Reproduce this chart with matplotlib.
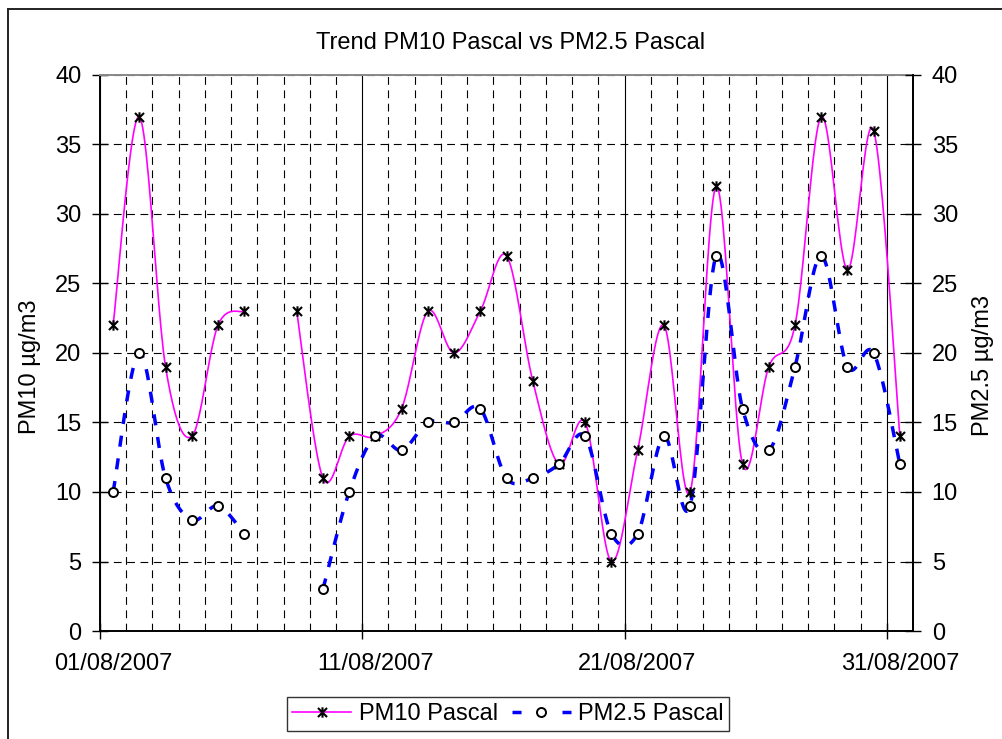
import datetime as dt
import numpy as np
import matplotlib
matplotlib.use("Agg")
import matplotlib.pyplot as plt
import matplotlib.dates as mdates
import matplotlib.transforms as mtransforms
from matplotlib.lines import Line2D
from matplotlib.path import Path
from matplotlib.ticker import MultipleLocator, FixedLocator

plt.rcParams['font.family'] = ['Liberation Sans', 'DejaVu Sans']

# ---------------- data ----------------
days = list(range(1, 32))  # August 2007
pm10 = [22, 37, 19, 14, 22, 23, None, 23, 11, 14, 14, 16, 23, 20, 23, 27,
        18, 12, 15, 5, 13, 22, 10, 32, 12, 19, 22, 37, 26, 36, 14]
pm25 = [10, 20, 11, 8, 9, 7, None, None, 3, 10, 14, 13, 15, 15, 16, 11,
        11, 12, 14, 7, 7, 14, 9, 27, 16, 13, 19, 27, 19, 20, 12]
major_days = [1, 11, 21, 31]
title = "Trend PM10 Pascal vs PM2.5 Pascal"
ylabel_left = "PM10 µg/m3"
ylabel_right = "PM2.5 µg/m3"
series_names = ["PM10 Pascal", "PM2.5 Pascal"]

xnum = [mdates.date2num(dt.datetime(2007, 8, d, 12)) for d in days]


def smooth(x, y, n=24):
    """Excel-like smoothed line (Catmull-Rom Bezier), broken at gaps."""
    runs, cur = [], []
    for xi, yi in zip(x, y):
        if yi is None:
            if cur:
                runs.append(cur)
            cur = []
        else:
            cur.append((xi, yi))
    if cur:
        runs.append(cur)
    ox, oy = [], []
    t = np.linspace(0, 1, n)[:, None]
    for run in runs:
        P = np.array(run, float)
        m = len(P)
        for i in range(m - 1):
            p0 = P[i - 1] if i > 0 else P[i]
            p1, p2 = P[i], P[i + 1]
            p3 = P[i + 2] if i + 2 < m else P[i + 1]
            c1 = p1 + (p2 - p0) / 6.0
            c2 = p2 - (p3 - p1) / 6.0
            B = ((1 - t) ** 3) * p1 + 3 * ((1 - t) ** 2) * t * c1 + 3 * (1 - t) * t ** 2 * c2 + t ** 3 * p2
            ox.extend(B[:, 0]); oy.extend(B[:, 1])
        ox.append(np.nan); oy.append(np.nan)
    return np.array(ox), np.array(oy)


star = Path([(-1, -1), (1, 1), (-1, 1), (1, -1), (0, -1.15), (0, 1.15)],
            [Path.MOVETO, Path.LINETO, Path.MOVETO, Path.LINETO, Path.MOVETO, Path.LINETO])

W, H = 1002, 739
fig = plt.figure(figsize=(W / 100, H / 100), dpi=100)
L, R, T, Bm = 100, 913, 75, 631
ax = fig.add_axes([L / W, 1 - Bm / H, (R - L) / W, (Bm - T) / H])

FS = 17
MAG = '#FF00FF'
BLUE = '#0000FF'

sx, sy = smooth(xnum, pm10)
ax.plot(sx, sy, color=MAG, lw=1.2, zorder=3, solid_capstyle='butt')
bx, by = smooth(xnum, pm25)
ax.plot(bx, by, color=BLUE, lw=2.5, dashes=(3.2, 3.4), zorder=3, dash_capstyle='butt')

px = [x for x, v in zip(xnum, pm10) if v is not None]
pv = [v for v in pm10 if v is not None]
ax.plot(px, pv, ls='none', marker=star, ms=7.5, mec='black', mew=1.5, zorder=5)
qx = [x for x, v in zip(xnum, pm25) if v is not None]
qv = [v for v in pm25 if v is not None]
ax.plot(qx, qv, ls='none', marker='o', ms=6.5, mec='black', mfc='white', mew=1.4, zorder=5)

ax.set_xlim(mdates.date2num(dt.datetime(2007, 8, 1)), mdates.date2num(dt.datetime(2007, 9, 1)))
ax.set_ylim(0, 40)
ax.xaxis.set_major_locator(FixedLocator([mdates.date2num(dt.datetime(2007, 8, d)) for d in major_days]))
ax.xaxis.set_minor_locator(mdates.DayLocator())
ax.xaxis.set_major_formatter(mdates.DateFormatter('%d/%m/%Y'))
ax.yaxis.set_major_locator(MultipleLocator(5))

ax.grid(axis='y', which='major', color='black', lw=0.8, dashes=(7, 5))
ax.grid(axis='x', which='major', color='black', lw=0.8, ls='-')
ax.grid(axis='x', which='minor', color='black', lw=0.8, dashes=(7, 5))
ax.set_axisbelow(True)

ax.tick_params(axis='both', which='major', direction='inout', length=11, width=1.0,
               labelsize=FS, colors='black', pad=8)
ax.tick_params(axis='x', which='major', pad=10)
ax.tick_params(axis='x', which='minor', length=0)
for s in ['left', 'bottom']:
    ax.spines[s].set_color('black')
    ax.spines[s].set_linewidth(1.4)
ax.spines['top'].set_color('#888888')
ax.spines['top'].set_linewidth(1.4)
ax.spines['right'].set_color('black')
ax.spines['right'].set_linewidth(1.4)

# Excel centres date labels on the day (half a day to the right of the tick)
offset = mtransforms.ScaledTranslation(13 / 100, 0, fig.dpi_scale_trans)
for lab in ax.get_xticklabels():
    lab.set_transform(lab.get_transform() + offset)

ax2 = ax.twinx()
ax2.set_ylim(0, 40)
ax2.yaxis.set_major_locator(MultipleLocator(5))
ax2.tick_params(axis='y', direction='inout', length=11, width=1.0, labelsize=FS, pad=8)
for s in ['left', 'bottom', 'top']:
    ax2.spines[s].set_visible(False)
ax2.spines['right'].set_linewidth(1.4)

fig.text(511 / W, 1 - 43 / H, title, ha='center', va='center', fontsize=FS)
fig.text(30 / W, 1 - 367 / H, ylabel_left, ha='center', va='center', rotation=90, fontsize=FS)
fig.text(983 / W, 1 - 365 / H, ylabel_right, ha='center', va='center', rotation=90, fontsize=FS)

h1 = Line2D([], [], color=MAG, lw=1.2, marker=star, ms=7.5, mec='black', mew=1.5)
h2 = Line2D([], [], color=BLUE, lw=2.5, dashes=(2.6, 11.8), marker='o', ms=6.5,
            mec='black', mfc='white', mew=1.4, dash_capstyle='butt')
leg = fig.legend([h1, h2], series_names, loc='center', ncol=2,
                 bbox_to_anchor=(508 / W, 1 - 714 / H), bbox_transform=fig.transFigure,
                 fontsize=FS, frameon=True, fancybox=False, framealpha=1, edgecolor='#333333',
                 handlelength=2.5, handletextpad=0.3, columnspacing=0.6, borderpad=0.25,
                 numpoints=1, borderaxespad=0)
leg.get_frame().set_linewidth(1.0)

# outer chart border (left and top visible)
fig.add_artist(Line2D([8 / W, 8 / W], [0, 1 - 9 / H], transform=fig.transFigure, color='#222222', lw=1.4))
fig.add_artist(Line2D([8 / W, 1], [1 - 9 / H, 1 - 9 / H], transform=fig.transFigure, color='#222222', lw=1.4))

fig.savefig('out.png', dpi=100)
